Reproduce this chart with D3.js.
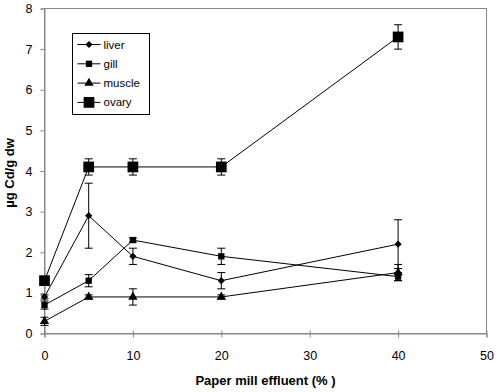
<!DOCTYPE html>
<html lang="en">
<head>
<meta charset="utf-8">
<title>Cd in tissues</title>
<script src="https://d3js.org/d3.v7.min.js"></script>
<style>
  body { margin: 0; background: #fff; }
  svg { display: block; font-family: "Liberation Sans", Arial, sans-serif; }
</style>
</head>
<body>
<svg id="chart" width="500" height="392"></svg>
<script>
// data
var effluent = [0, 5, 10, 20, 40]
var seriesNames = ["liver", "gill", "muscle", "ovary"]
var liver = [0.9, 2.9, 1.9, 1.3, 2.2]
var liverErr = [0.05, 0.8, 0.2, 0.2, 0.6]
var gill = [0.7, 1.3, 2.3, 1.9, 1.4]
var gillErr = [0.1, 0.15, 0.05, 0.2, 0.1]
var muscle = [0.3, 0.9, 0.9, 0.9, 1.5]
var muscleErr = [0.1, 0.05, 0.2, 0.05, 0.2]
var ovary = [1.3, 4.1, 4.1, 4.1, 7.3]
var ovaryErr = [0.1, 0.2, 0.2, 0.2, 0.3]
var xTicks = [0, 10, 20, 30, 40, 50]
var yTicks = [0, 1, 2, 3, 4, 5, 6, 7, 8]

var margin = {left: 44.5, right: 13.5, top: 8.5, bottom: 58.5}
var W = 500, H = 392
var svg = d3.select("#chart")

var x = d3.scaleLinear().domain([0, 50]).range([margin.left, W - margin.right])
var y = d3.scaleLinear().domain([0, 8]).range([H - margin.bottom, margin.top])

// plot frame
svg.append("rect")
  .attr("x", x(0)).attr("y", y(8))
  .attr("width", x(50) - x(0)).attr("height", y(0) - y(8))
  .attr("fill", "none").attr("stroke", "#888").attr("stroke-width", 1)

// axes
var xAxis = svg.append("g").attr("transform", "translate(0," + y(0) + ")")
  .call(d3.axisBottom(x).tickValues(xTicks).tickSize(4).tickFormat(d3.format("d")))
var yAxis = svg.append("g").attr("transform", "translate(" + x(0) + ",0)")
  .call(d3.axisLeft(y).tickValues(yTicks).tickSize(4))
;[xAxis, yAxis].forEach(function(a){
  a.select(".domain").attr("stroke", "#888")
  a.selectAll(".tick line").attr("stroke", "#888")
  a.selectAll("text").attr("fill", "#000").style("font-size", "12.5px")
    .style("font-family", "'Liberation Sans', Arial, sans-serif")
})
xAxis.selectAll(".tick line").attr("y1", -3)
xAxis.selectAll("text").attr("dy", "0").attr("y", 26)
yAxis.selectAll("text").attr("x", -12)

// axis titles
svg.append("text")
  .attr("x", (x(0) + x(50)) / 2).attr("y", 385)
  .attr("text-anchor", "middle").attr("font-weight", "bold").attr("font-size", 13)
  .text("Paper mill effluent (% )")
svg.append("text")
  .attr("transform", "translate(14,173) rotate(-90)")
  .attr("text-anchor", "middle").attr("font-weight", "bold").attr("font-size", 13)
  .text("µg Cd/g dw")

var diamond = {draw: function(ctx, size){
  var r = Math.sqrt(size / 2)
  ctx.moveTo(0, -r); ctx.lineTo(r, 0); ctx.lineTo(0, r); ctx.lineTo(-r, 0); ctx.closePath()
}}

var series = [
  {name: "liver", vals: liver, err: liverErr, sym: diamond, size: 26},
  {name: "gill", vals: gill, err: gillErr, sym: d3.symbolSquare, size: 40},
  {name: "muscle", vals: muscle, err: muscleErr, sym: d3.symbolTriangle, size: 38},
  {name: "ovary", vals: ovary, err: ovaryErr, sym: d3.symbolSquare, size: 115}
]

var line = d3.line().x(function(d){ return x(d[0]) }).y(function(d){ return y(d[1]) })

series.forEach(function(s){
  var pts = effluent.map(function(e, i){ return [e, s.vals[i], s.err[i]] })
  var g = svg.append("g")
  // error bars
  var eb = g.selectAll(".eb").data(pts).join("g")
  eb.append("line")
    .attr("x1", function(d){ return x(d[0]) }).attr("x2", function(d){ return x(d[0]) })
    .attr("y1", function(d){ return y(d[1] + d[2]) }).attr("y2", function(d){ return y(d[1] - d[2]) })
    .attr("stroke", "#000")
  ;[1, -1].forEach(function(sg){
    eb.append("line")
      .attr("x1", function(d){ return x(d[0]) - 4 }).attr("x2", function(d){ return x(d[0]) + 4 })
      .attr("y1", function(d){ return y(d[1] + sg * d[2]) }).attr("y2", function(d){ return y(d[1] + sg * d[2]) })
      .attr("stroke", "#000")
  })
  g.append("path").attr("d", line(pts)).attr("fill", "none").attr("stroke", "#000").attr("stroke-width", 1)
  g.selectAll(".m").data(pts).join("path")
    .attr("transform", function(d){ return "translate(" + x(d[0]) + "," + y(d[1]) + ")" })
    .attr("d", d3.symbol().type(s.sym).size(s.size))
    .attr("fill", "#000")
})

// legend
var lg = svg.append("g").attr("transform", "translate(72.5,33.5)")
lg.append("rect").attr("width", 77).attr("height", 81)
  .attr("fill", "#fff").attr("stroke", "#000").attr("stroke-width", 1)
series.forEach(function(s, i){
  var ry = 11 + i * 19.3
  lg.append("line").attr("x1", 5).attr("x2", 28).attr("y1", ry).attr("y2", ry).attr("stroke", "#000")
  lg.append("path").attr("transform", "translate(16.5," + ry + ")")
    .attr("d", d3.symbol().type(s.sym).size(s.size)).attr("fill", "#000")
  lg.append("text").attr("x", 31).attr("y", ry + 4).attr("font-size", 11.5).text(seriesNames[i])
})
</script>
</body>
</html>
